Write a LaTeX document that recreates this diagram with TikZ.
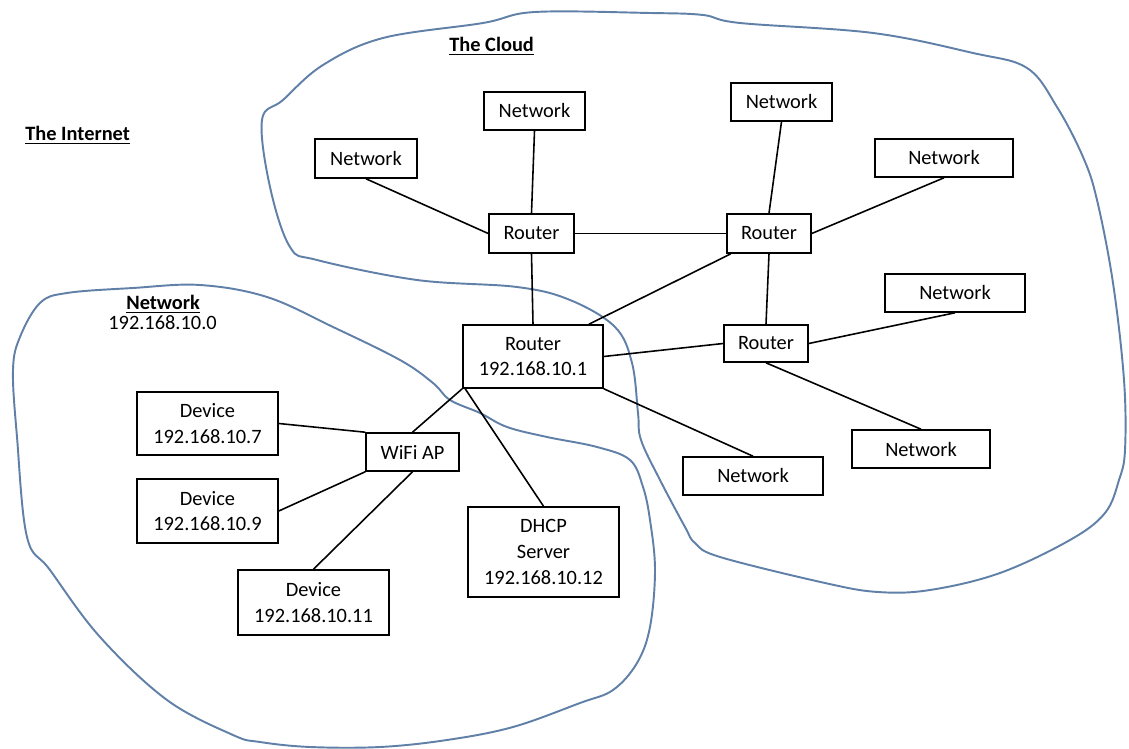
\documentclass[tikz,border=0pt]{standalone}
\usepackage{fontspec}
\setmainfont{Carlito}
\usetikzlibrary{positioning}
\definecolor{cloudblue}{RGB}{96,128,168}

\begin{document}
\begin{tikzpicture}[x=0.02cm,y=-0.02cm,
    every node/.style={font=\fontsize{11.6}{14.6}\selectfont},
    box/.style 2 args={draw, line width=0.9pt, inner sep=0pt, align=center,
        minimum width=#1*0.02cm, minimum height=#2*0.02cm},
    link/.style={line width=0.9pt},
    blob/.style={draw=cloudblue, line width=1.1pt}]
    \useasboundingbox (0,0) rectangle (1129,749);

    % the cloud and the local network
    \draw[blob] plot[smooth cycle, tension=0.6] coordinates {(535,12) (650,13) (703,15) (740,23) (873,33) (973,53) (1027,68) (1057,107) (1083,157) (1097,200) (1113,283) (1124,380) (1125,450) (1119,480) (1105,513) (1070,540) (1000,573) (930,590) (878,592) (825,583) (720,557) (695,543) (685,527) (660,480) (641,440) (638,413) (632,363) (615,327) (570,300) (517,287) (417,280) (317,260) (290,247) (270,187) (262,120) (283,100) (323,65) (383,38) (483,23)};
    \draw[blob] plot[smooth cycle, tension=0.6] coordinates {(40,303) (67,293) (133,288) (200,285) (267,297) (333,327) (400,360) (433,383) (450,400) (480,413) (507,427) (547,437) (597,447) (630,460) (643,487) (650,520) (655,570) (650,627) (637,663) (613,690) (580,703) (513,727) (447,740) (380,747) (310,747) (260,742) (233,735) (167,700) (100,637) (50,570) (27,537) (17,437) (13,370) (20,337)};

    % labels
    \node[anchor=base west, inner sep=0pt] (lblInternet) at (25,141) {\bfseries\underline{The Internet}};
    \node[anchor=base west, inner sep=0pt] (lblCloud) at (449,52) {\bfseries\underline{The Cloud}};
    \node[anchor=base west, inner sep=0pt] (lblNet) at (126,310) {\bfseries\underline{Network}};
    \node[anchor=base west, inner sep=0pt] (lblAddr) at (108,330) {192.168.10.0};

    % boxes
    \node[box={101}{38}] (netT) at (534.5,111) {Network};
    \node[box={102}{39}] (netL) at (366,158.5) {Network};
    \node[box={85}{39}] (routA) at (531.5,233.5) {Router};
    \node[box={101}{38}] (netTR) at (781.5,102) {Network};
    \node[box={138}{38}] (netR) at (944,158) {Network};
    \node[box={84}{39}] (routB) at (769,233.5) {Router};
    \node[box={140}{38}] (netRR) at (955,293) {Network};
    \node[box={84}{37}] (routD) at (766,343.5) {Router};
    \node[box={140}{63}] (routC) at (533,356.5) {Router\\192.168.10.1};
    \node[box={140}{38}] (netB) at (753,476) {Network};
    \node[box={138}{38}] (netBR) at (921,449) {Network};
    \node[box={141}{63}] (dev7) at (207.5,423.5) {Device\\192.168.10.7};
    \node[box={93}{38}] (wifi) at (412.5,452) {WiFi AP};
    \node[box={141}{64}] (dev9) at (207.5,511) {Device\\192.168.10.9};
    \node[box={151}{65}] (dev11) at (313.5,602.5) {Device\\192.168.10.11};
    \node[box={151}{90}] (dhcp) at (543.5,552) {DHCP\\Server\\192.168.10.12};

    % links
    \draw[link] (netL.south) -- (routA.west);
    \draw[link] (netT.south) -- (routA.north);
    \draw[link] (routA.east) -- (routB.west);
    \draw[link] (routA.south) -- (routC.north);
    \draw[link] (netTR.south) -- (routB.north);
    \draw[link] (netR.south) -- (routB.east);
    \draw[link] (routB.208) -- (routC.30);
    \draw[link] (routB.south) -- (routD.north);
    \draw[link] (routC.east) -- (routD.west);
    \draw[link] (routD.east) -- (netRR.south);
    \draw[link] (routD.south) -- (netBR.north);
    \draw[link] (routC.south east) -- (netB.north);
    \draw[link] (routC.south west) -- (wifi.north);
    \draw[link] ([xshift=0.06cm]routC.south west) -- (dhcp.north);
    \draw[link] (dev7.east) -- (wifi.north west);
    \draw[link] (dev9.east) -- (wifi.south west);
    \draw[link] (dev11.north) -- (wifi.south);
\end{tikzpicture}
\end{document}
